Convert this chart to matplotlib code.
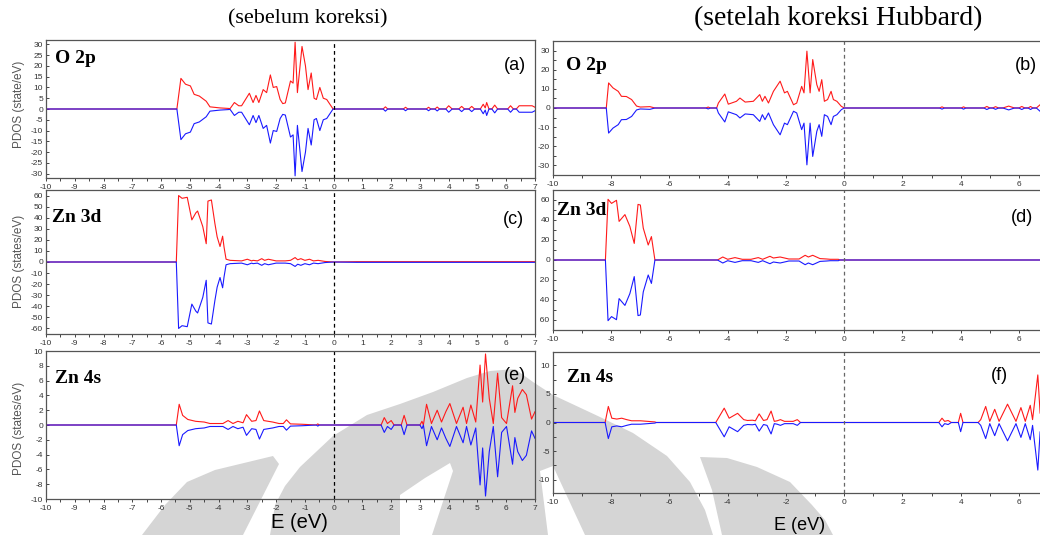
import matplotlib
matplotlib.use('Agg')
import matplotlib.pyplot as plt
from matplotlib.patches import Polygon
from matplotlib.transforms import Bbox, TransformedBbox
from matplotlib.ticker import MultipleLocator

plt.rcParams['axes.unicode_minus'] = False

# PDOS spin-up values (E in eV, states/eV); spin-down is the mirror image
o2p_before = [(-10, 0), (-5.45, 0), (-5.31, 14.2), (-5.15, 11.5), (-4.98, 10.7), (-4.85, 6.8),
              (-4.67, 6.0), (-4.43, 3.6), (-4.3, 1.0), (-3.95, 0.5), (-3.7, 0.3), (-3.6, 0.2),
              (-3.45, 3.0), (-3.3, 1.5), (-3.2, 1.5), (-2.93, 7.3), (-2.8, 3.0), (-2.7, 6.3),
              (-2.6, 3.0), (-2.45, 9.0), (-2.33, 7.6), (-2.2, 15.8), (-2.1, 10.0), (-1.98, 10.4),
              (-1.86, 4.4), (-1.77, 2.5), (-1.68, 2.8), (-1.5, 13.0), (-1.41, 12.0), (-1.34, 31.0),
              (-1.26, 7.6), (-1.1, 29.0), (-0.98, 20.0), (-0.89, 9.0), (-0.78, 16.7), (-0.68, 5.0),
              (-0.6, 4.4), (-0.48, 10.0), (-0.36, 5.0), (-0.24, 4.4), (-0.12, 2.0), (-0.02, 0),
              (1.72, 0), (1.8, 1.0), (1.88, 0), (2.42, 0), (2.5, 0.8), (2.58, 0), (3.22, 0),
              (3.3, 0.8), (3.38, 0), (3.52, 0), (3.6, 0.9), (3.68, 0), (3.9, 0), (4.0, 1.5),
              (4.12, 0), (4.35, 0), (4.45, 1.2), (4.55, 0), (4.7, 0), (4.8, 1.2), (4.9, 0),
              (5.1, 0), (5.2, 2.2), (5.27, 0.5), (5.32, 3.0), (5.4, 0), (5.5, 0), (5.6, 1.8),
              (5.7, 0), (6.05, 0), (6.15, 1.5), (6.25, 0), (6.35, 0), (6.45, 1.5), (6.9, 1.5),
              (7.0, 0.8)]

o2p_hubbard = [(-10, 0), (-8.17, 0), (-8.09, 13.1), (-7.94, 10.5), (-7.76, 8.7), (-7.65, 6.1),
               (-7.48, 6.0), (-7.3, 4.4), (-7.13, 1.0), (-7.0, 0.5), (-6.67, 0.7), (-6.5, 0),
               (-4.75, 0), (-4.67, 0.5), (-4.6, 0), (-4.38, 0), (-4.32, 2.6), (-4.1, 7.3),
               (-3.98, 2.0), (-3.7, 3.5), (-3.58, 5.2), (-3.4, 3.1), (-3.12, 3.5), (-2.9, 7.0),
               (-2.81, 3.5), (-2.72, 6.1), (-2.6, 2.6), (-2.43, 8.7), (-2.2, 14.0), (-2.05, 7.9),
               (-1.95, 8.7), (-1.74, 1.7), (-1.63, 2.6), (-1.46, 11.3), (-1.38, 7.9), (-1.28, 29.7),
               (-1.17, 7.9), (-1.08, 25.3), (-0.94, 12.2), (-0.86, 8.7), (-0.77, 14.8), (-0.68, 3.5),
               (-0.57, 4.4), (-0.45, 8.7), (-0.37, 4.4), (-0.25, 3.5), (-0.1, 0.9), (0.0, 0),
               (3.28, 0), (3.36, 0.6), (3.44, 0), (4.02, 0), (4.1, 0.6), (4.18, 0), (4.8, 0),
               (4.9, 0.8), (5.0, 0), (5.1, 0), (5.2, 0.7), (5.3, 0), (5.45, 0), (5.65, 1.0),
               (5.85, 0), (6.0, 0), (6.1, 0.8), (6.2, 0), (6.32, 0), (6.4, 0.8), (6.48, 0),
               (6.6, 0), (6.75, 2.0), (7.0, 1.5)]

zn3d_before = [(-10, 0), (-5.47, 0), (-5.39, 60), (-5.27, 57.5), (-5.09, 58.4), (-4.93, 38),
               (-4.79, 44.4), (-4.73, 46), (-4.55, 32), (-4.43, 16.5), (-4.37, 55), (-4.25, 56),
               (-4.13, 35), (-4.05, 22.7), (-3.95, 14), (-3.86, 23.3), (-3.81, 13.4), (-3.74, 2.5),
               (-3.6, 1.5), (-3.2, 1.0), (-3.0, 2.5), (-2.85, 1.0), (-2.8, 1.5), (-2.65, 1.0),
               (-2.5, 3.0), (-2.4, 1.5), (-2.27, 2.5), (-2.0, 1.0), (-1.68, 1.0), (-1.5, 1.5),
               (-1.34, 4.0), (-1.25, 2.0), (-1.14, 3.0), (-1.0, 1.5), (-0.84, 2.5), (-0.7, 1.0),
               (-0.54, 1.5), (-0.3, 0.5), (0, 0), (0.8, 0.3), (7, 0.3)]

zn3d_hubbard = [(-10, 0), (-8.2, 0), (-8.11, 60.7), (-7.99, 56.6), (-7.82, 59.7), (-7.73, 38.6),
                (-7.53, 45.4), (-7.36, 33.6), (-7.21, 16.6), (-7.08, 55.6), (-7.0, 55), (-6.9, 31.9),
                (-6.73, 15), (-6.62, 23.4), (-6.5, 0), (-4.35, 0), (-4.17, 3.0), (-4.0, 0.7),
                (-3.75, 2.4), (-3.5, 0.7), (-3.2, 0.7), (-2.95, 2.4), (-2.8, 0.7), (-2.55, 3.7),
                (-2.43, 2.0), (-2.2, 3.0), (-1.9, 1.0), (-1.55, 1.0), (-1.34, 4.7), (-1.23, 3.0),
                (-1.08, 4.7), (-0.83, 1.4), (-0.6, 1.0), (-0.48, 0.7), (-0.2, 0.7), (-0.15, 0),
                (7, 0)]

zn4s_before = [(-10, 0), (-5.47, 0), (-5.37, 2.8), (-5.25, 1.3), (-5.07, 0.75), (-4.8, 0.5),
               (-4.5, 0.4), (-4.3, 0.2), (-3.85, 0.2), (-3.67, 0.6), (-3.5, 0.2), (-3.33, 0.5),
               (-3.15, 0.3), (-3.03, 1.4), (-2.85, 0.5), (-2.7, 0.6), (-2.58, 1.9), (-2.43, 0.6),
               (-2.12, 0.4), (-1.9, 0.2), (-1.75, 0.2), (-1.64, 0.7), (-1.5, 0.15), (-1.1, 0.1),
               (-0.6, 0), (-0.55, 0.15), (-0.5, 0), (1.65, 0), (1.76, 1.0), (1.87, 0.2),
               (2.0, 0.6), (2.1, 0), (2.35, 0), (2.45, 1.3), (2.55, 0), (3.0, 0), (3.07, 0.5),
               (3.12, 0), (3.23, 2.8), (3.4, 0.2), (3.6, 2.0), (3.75, 0.4), (3.9, 1.8),
               (4.04, 2.9), (4.15, 1.6), (4.27, 0.2), (4.5, 2.4), (4.62, 0.2), (4.77, 2.7),
               (4.94, 0.4), (5.09, 8.1), (5.18, 3.1), (5.28, 9.6), (5.41, 3.6), (5.55, 0.2),
               (5.7, 7.0), (5.84, 1.0), (6.01, 0.2), (6.22, 5.3), (6.3, 1.7), (6.4, 3.6),
               (6.56, 4.8), (6.7, 4.1), (6.88, 0.8), (7.0, 1.8)]

zn4s_hubbard = [(-10, 0), (-8.21, 0), (-8.1, 2.8), (-7.98, 0.75), (-7.81, 0.6), (-7.64, 0.75),
                (-7.47, 0.5), (-7.3, 0.3), (-7.0, 0.3), (-6.5, 0.1), (-6.45, 0), (-4.41, 0),
                (-4.12, 2.5), (-3.95, 0.75), (-3.66, 1.6), (-3.45, 0.5), (-3.32, 0.35),
                (-3.15, 0.4), (-3.05, 0.3), (-2.92, 1.5), (-2.77, 0.35), (-2.65, 0.5),
                (-2.51, 2.0), (-2.4, 0.2), (-2.3, 0.3), (-2.19, 0.5), (-2.05, 0.2), (-1.75, 0.2),
                (-1.61, 0.5), (-1.5, 0), (3.25, 0), (3.36, 0.75), (3.45, 0.2), (3.57, 0.35),
                (3.68, 0), (3.92, 0), (4.0, 1.6), (4.08, 0), (4.6, 0), (4.69, 0.5), (4.86, 2.8),
                (5.0, 0.2), (5.17, 2.3), (5.32, 0.2), (5.61, 3.2), (5.9, 0.2), (6.07, 2.6),
                (6.22, 0.2), (6.39, 3.0), (6.47, 0.5), (6.65, 8.3), (6.73, 1.6), (6.82, 5.7),
                (6.9, 3.0), (7, 2.0)]

W, H = 1040, 535
fig = plt.figure(figsize=(W / 100, H / 100), dpi=100)
fig.patch.set_facecolor('white')

SANS = 'Liberation Sans'
SERIF = 'Liberation Serif'


def fx(x):
    return x / W


def fy(y):
    return 1 - y / H


def add_ax(x0, y0, x1, y1):
    return fig.add_axes([fx(x0), fy(y1), (x1 - x0) / W, (y1 - y0) / H])


# faint grey watermark behind the lower panels (pixel outlines)
grey = '#d5d5d5'
shapes = [
    ([(142, 535), (165, 505), (187, 482), (215, 470), (273, 456), (279, 464), (243, 535)], grey),
    ([(270, 535), (275, 505), (285, 486), (300, 467), (333, 436), (367, 415), (400, 404),
      (433, 392), (467, 378), (490, 371), (515, 369), (533, 382), (553, 395), (600, 417),
      (633, 433), (667, 456), (690, 482), (705, 510), (713, 535)], grey),
    ([(400, 535), (400, 495), (425, 478), (450, 463), (453, 471), (432, 535)], 'white'),
    ([(540, 471), (553, 466), (585, 535), (548, 535)], 'white'),
    ([(700, 457), (727, 458), (757, 467), (790, 482), (812, 505), (825, 520), (833, 535),
      (722, 535), (712, 490)], grey),
]
for pts, col in shapes:
    fig.add_artist(Polygon([(fx(x), fy(y)) for x, y in pts], closed=True,
                           transform=fig.transFigure, facecolor=col, edgecolor='none', zorder=-5))


def draw_panel(ax, data, ylim, ymajor, yminor, xmajor, xminor, vcol):
    e = [p[0] for p in data]
    up = [p[1] for p in data]
    dn = [-p[1] for p in data]
    ax.set_facecolor('none')
    ax.plot(e, up, color='#ff1a1a', lw=0.8)
    ax.plot(e, dn, color='#1a1aff', lw=0.8)
    ax.axvline(0, color=vcol, lw=0.9, ls=(0, (3, 2.5)))
    ax.set_xlim(-10, 7)
    ax.set_ylim(*ylim)
    ax.xaxis.set_major_locator(MultipleLocator(xmajor))
    ax.xaxis.set_minor_locator(MultipleLocator(xminor))
    ax.yaxis.set_major_locator(MultipleLocator(ymajor))
    if yminor:
        ax.yaxis.set_minor_locator(MultipleLocator(yminor))
    ax.tick_params(which='both', labelsize=6, labelcolor='#333', color='#444', width=0.7)
    ax.tick_params(axis='x', which='both', direction='out', pad=2)
    ax.tick_params(axis='y', which='both', direction='in', pad=2)
    ax.tick_params(which='major', length=2.5)
    ax.tick_params(which='minor', length=1.8)
    for lab in ax.get_xticklabels() + ax.get_yticklabels():
        lab.set_family(SANS)
    for s in ax.spines.values():
        s.set_color('#555')
        s.set_linewidth(0.9)


# left column: before correction
ax_a = add_ax(46, 40, 535, 178)
draw_panel(ax_a, o2p_before, (-32, 32), 5, None, 1, 0.5, 'black')
ax_c = add_ax(46, 190, 535, 334)
draw_panel(ax_c, zn3d_before, (-65, 65), 10, None, 1, 0.5, 'black')
ax_e = add_ax(46, 351, 535, 499)
draw_panel(ax_e, zn4s_before, (-10, 10), 2, None, 1, 0.5, 'black')

# right column: after Hubbard correction (cut off at the right edge)
ax_b = add_ax(553, 41, 1048, 175)
draw_panel(ax_b, o2p_hubbard, (-35, 35), 10, 5, 2, 1, '#666')
ax_d = add_ax(553, 190, 1048, 330)
draw_panel(ax_d, zn3d_hubbard, (-70, 70), 20, 10, 2, 1, '#666')
ax_f = add_ax(553, 352, 1048, 493)
draw_panel(ax_f, zn4s_hubbard, (-12.3, 12.3), 5, 2.5, 2, 1, '#666')

# panel titles and labels
fig.text(fx(308), fy(19), '(sebelum koreksi)', family=SERIF, fontsize=16, ha='center', va='center')
fig.text(fx(838), fy(19), '(setelah koreksi Hubbard)', family=SERIF, fontsize=20, ha='center', va='center')

names = [(55, 63, 'O 2p'), (566, 70, 'O 2p'), (52, 222, 'Zn 3d'), (557, 215, 'Zn 3d'),
         (55, 383, 'Zn 4s'), (567, 382, 'Zn 4s')]
for x, y, t in names:
    fig.text(fx(x), fy(y), t, family=SERIF, weight='bold', fontsize=14, ha='left', va='baseline')

tags = [(526, 66, '(a)'), (1037, 65, '(b)'), (524, 220, '(c)'), (1033, 218, '(d)'),
        (526, 376, '(e)'), (1008, 375, '(f)')]
for x, y, t in tags:
    fig.text(fx(x), fy(y), t, family=SANS, fontsize=13, ha='right', va='center')

ylabels = [(104, 'PDOS (state/eV)'), (261, 'PDOS (states/eV)'), (428, 'PDOS (states/eV)')]
for y, t in ylabels:
    fig.text(fx(19), fy(y), t, family=SANS, fontsize=8.5, color='#555', rotation=90,
             ha='center', va='center')

fig.text(fx(299), fy(522), 'E (eV)', family=SANS, fontsize=14.5, ha='center', va='center')
fig.text(fx(800), fy(525), 'E (eV)', family=SANS, fontsize=13, ha='center', va='center')

# the right-hand figure is cropped on its left, so some tick labels lose their minus sign
fig.canvas.draw()
for ax, cut in ((ax_b, 536), (ax_d, 540), (ax_f, 539)):
    clip = TransformedBbox(Bbox([[fx(cut), 0], [1, 1]]), fig.transFigure)
    for lab in ax.get_yticklabels():
        lab.set_clip_box(clip)
        lab.set_clip_on(True)

fig.savefig('out.png', dpi=100)
